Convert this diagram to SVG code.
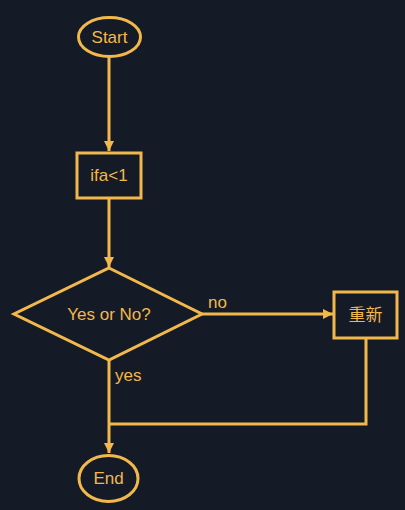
<svg xmlns="http://www.w3.org/2000/svg" width="405" height="510" viewBox="0 0 405 510">
<style>
.s{fill:none;stroke:#f2b84b;stroke-width:3}
.c{fill:none;stroke:#f2b84b;stroke-width:3}
.t{fill:#f2b84b;font-family:"Liberation Sans","Noto Sans CJK SC",Arial,sans-serif;font-size:17px;text-anchor:middle;dominant-baseline:central}
.l{fill:#f2b84b;font-family:"Liberation Sans",Arial,sans-serif;font-size:17px}
</style>
<defs>
<marker id="a" viewBox="0 0 10 10" refX="10" refY="5" markerWidth="10" markerHeight="10" markerUnits="userSpaceOnUse" orient="auto">
<path d="M0,0L10,5L0,10z" fill="#f2b84b"/>
</marker>
</defs>
<rect width="405" height="510" fill="#151b26"/>
<g id="connectors">
<path class="c" d="M109,56V151" marker-end="url(#a)"/>
<path class="c" d="M109,198V267" marker-end="url(#a)"/>
<path class="c" d="M202,314H333" marker-end="url(#a)"/>
<path class="c" d="M109,360V453" marker-end="url(#a)"/>
<path class="c" d="M366,338V424H109"/>
<text class="l" x="208" y="308">no</text>
<text class="l" x="115" y="381">yes</text>
</g>
<g id="start">
<ellipse class="s" cx="109.5" cy="37" rx="31" ry="19.5"/>
<text class="t" x="109.5" y="37">Start</text>
</g>
<g id="ifa">
<rect class="s" x="77" y="153" width="64" height="45"/>
<text class="t" x="109" y="175.5">ifa&lt;1</text>
</g>
<g id="decision">
<polygon class="s" points="109,268 202,314 109,360 14,314"/>
<text class="t" x="109" y="314">Yes or No?</text>
</g>
<g id="retry">
<rect class="s" x="334" y="292" width="63" height="46"/>
<text class="t" x="365.5" y="315">重新</text>
</g>
<g id="end">
<ellipse class="s" cx="108.5" cy="478.5" rx="29.5" ry="23"/>
<text class="t" x="108.5" y="478.5">End</text>
</g>
</svg>
